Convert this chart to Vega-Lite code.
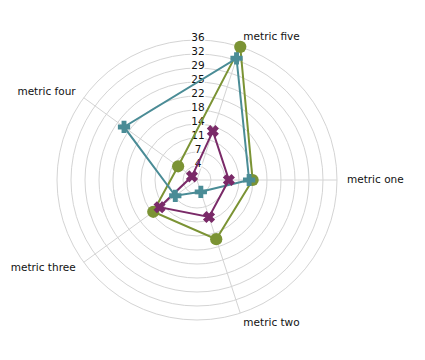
{
  "$schema": "https://vega.github.io/schema/vega-lite/v6.json",
  "width": 425,
  "height": 360,
  "padding": 0,
  "autosize": {"type": "fit", "contains": "padding"},
  "config": {"view": {"stroke": null}, "font": "DejaVu Sans"},
  "datasets": {
    "scores": [
      {"series": "A", "metric": "metric one", "value": 14.3},
      {"series": "A", "metric": "metric two", "value": 16.0},
      {"series": "A", "metric": "metric three", "value": 13.9},
      {"series": "A", "metric": "metric four", "value": 6.0},
      {"series": "A", "metric": "metric five", "value": 36.0},
      {"series": "B", "metric": "metric one", "value": 13.4},
      {"series": "B", "metric": "metric two", "value": 3.2},
      {"series": "B", "metric": "metric three", "value": 6.9},
      {"series": "B", "metric": "metric four", "value": 23.2},
      {"series": "B", "metric": "metric five", "value": 32.9},
      {"series": "C", "metric": "metric one", "value": 8.2},
      {"series": "C", "metric": "metric two", "value": 10.0},
      {"series": "C", "metric": "metric three", "value": 11.9},
      {"series": "C", "metric": "metric four", "value": 1.6},
      {"series": "C", "metric": "metric five", "value": 13.2}
    ],
    "metrics": [
      {"metric": "metric one"},
      {"metric": "metric two"},
      {"metric": "metric three"},
      {"metric": "metric four"},
      {"metric": "metric five"}
    ],
    "rings": [
      {"ring": 3.6}, {"ring": 7.2}, {"ring": 10.8}, {"ring": 14.4}, {"ring": 18},
      {"ring": 21.6}, {"ring": 25.2}, {"ring": 28.8}, {"ring": 32.4}, {"ring": 36}
    ]
  },
  "layer": [
    {
      "data": {"name": "rings"},
      "transform": [{"calculate": "0", "as": "c0"}],
      "mark": {"type": "point", "filled": false, "color": "#d4d4d4", "strokeWidth": 1, "opacity": 1},
      "encoding": {
        "x": {"field": "c0", "type": "quantitative", "scale": {"domain": [-50.657, 58.629], "nice": false, "zero": false}, "axis": null},
        "y": {"field": "c0", "type": "quantitative", "scale": {"domain": [-46.286, 46.286], "nice": false, "zero": false}, "axis": null},
        "size": {"field": "ring", "type": "quantitative", "scale": {"type": "pow", "exponent": 2, "domain": [0, 36], "range": [0, 78400]}, "legend": null}
      }
    },
    {
      "data": {"name": "metrics"},
      "transform": [
        {"calculate": "0", "as": "c0"},
        {"calculate": "indexof(['metric one','metric two','metric three','metric four','metric five'], datum.metric) * 2 * PI / 5", "as": "ang"},
        {"calculate": "36 * cos(datum.ang)", "as": "ex"},
        {"calculate": "-36 * sin(datum.ang)", "as": "ey"}
      ],
      "mark": {"type": "rule", "color": "#d4d4d4", "strokeWidth": 1},
      "encoding": {
        "x": {"field": "c0", "type": "quantitative"},
        "y": {"field": "c0", "type": "quantitative"},
        "x2": {"field": "ex"},
        "y2": {"field": "ey"}
      }
    },
    {
      "data": {"name": "rings"},
      "transform": [{"calculate": "0", "as": "c0"}],
      "mark": {"type": "text", "fontSize": 10.5, "align": "center", "baseline": "middle", "dx": 1, "dy": -2, "stroke": "white", "strokeWidth": 3, "color": "white"},
      "encoding": {
        "x": {"field": "c0", "type": "quantitative"},
        "y": {"field": "ring", "type": "quantitative"},
        "text": {"field": "ring", "type": "quantitative", "format": ".0f"}
      }
    },
    {
      "data": {"name": "rings"},
      "transform": [{"calculate": "0", "as": "c0"}],
      "mark": {"type": "text", "fontSize": 10.5, "align": "center", "baseline": "middle", "dx": 1, "dy": -2, "color": "#111111"},
      "encoding": {
        "x": {"field": "c0", "type": "quantitative"},
        "y": {"field": "ring", "type": "quantitative"},
        "text": {"field": "ring", "type": "quantitative", "format": ".0f"}
      }
    },
    {
      "data": {"name": "metrics"},
      "transform": [
        {"calculate": "indexof(['metric one','metric two','metric three','metric four','metric five'], datum.metric) * 2 * PI / 5", "as": "ang"},
        {"filter": "cos(datum.ang) > 0"},
        {"calculate": "38.571 * cos(datum.ang)", "as": "lx"},
        {"calculate": "-38.571 * sin(datum.ang)", "as": "ly"}
      ],
      "mark": {"type": "text", "fontSize": 10.5, "align": "left", "baseline": "middle", "color": "#111111"},
      "encoding": {
        "x": {"field": "lx", "type": "quantitative"},
        "y": {"field": "ly", "type": "quantitative"},
        "text": {"field": "metric", "type": "nominal"}
      }
    },
    {
      "data": {"name": "metrics"},
      "transform": [
        {"calculate": "indexof(['metric one','metric two','metric three','metric four','metric five'], datum.metric) * 2 * PI / 5", "as": "ang"},
        {"filter": "cos(datum.ang) < 0"},
        {"calculate": "38.571 * cos(datum.ang)", "as": "lx"},
        {"calculate": "-38.571 * sin(datum.ang)", "as": "ly"}
      ],
      "mark": {"type": "text", "fontSize": 10.5, "align": "right", "baseline": "middle", "color": "#111111"},
      "encoding": {
        "x": {"field": "lx", "type": "quantitative"},
        "y": {"field": "ly", "type": "quantitative"},
        "text": {"field": "metric", "type": "nominal"}
      }
    },
    {
      "data": {"name": "scores"},
      "transform": [
        {"calculate": "indexof(['metric one','metric two','metric three','metric four','metric five'], datum.metric)", "as": "idx"},
        {"calculate": "datum.idx * 2 * PI / 5", "as": "ang"},
        {"calculate": "datum.value * cos(datum.ang)", "as": "px"},
        {"calculate": "-datum.value * sin(datum.ang)", "as": "py"}
      ],
      "mark": {"type": "line", "interpolate": "linear-closed", "strokeWidth": 2},
      "encoding": {
        "x": {"field": "px", "type": "quantitative"},
        "y": {"field": "py", "type": "quantitative"},
        "color": {"field": "series", "type": "nominal", "scale": {"domain": ["A", "B", "C"], "range": ["#7b9334", "#4a8c96", "#7a2a68"]}, "legend": null},
        "order": {"field": "idx", "type": "quantitative"}
      }
    },
    {
      "data": {"name": "scores"},
      "transform": [
        {"calculate": "indexof(['metric one','metric two','metric three','metric four','metric five'], datum.metric)", "as": "idx"},
        {"calculate": "datum.idx * 2 * PI / 5", "as": "ang"},
        {"calculate": "datum.value * cos(datum.ang)", "as": "px"},
        {"calculate": "-datum.value * sin(datum.ang)", "as": "py"}
      ],
      "mark": {"type": "point", "filled": true, "opacity": 1, "size": 150},
      "encoding": {
        "x": {"field": "px", "type": "quantitative"},
        "y": {"field": "py", "type": "quantitative"},
        "color": {"field": "series", "type": "nominal", "legend": null},
        "shape": {"field": "series", "type": "nominal", "scale": {"domain": ["A", "B", "C"], "range": ["circle", "cross", "M-0.424,-0.99L-0.99,-0.424L-0.566,0L-0.99,0.424L-0.424,0.99L0,0.566L0.424,0.99L0.99,0.424L0.566,0L0.99,-0.424L0.424,-0.99L0,-0.566Z"]}, "legend": null}
      }
    }
  ]
}
